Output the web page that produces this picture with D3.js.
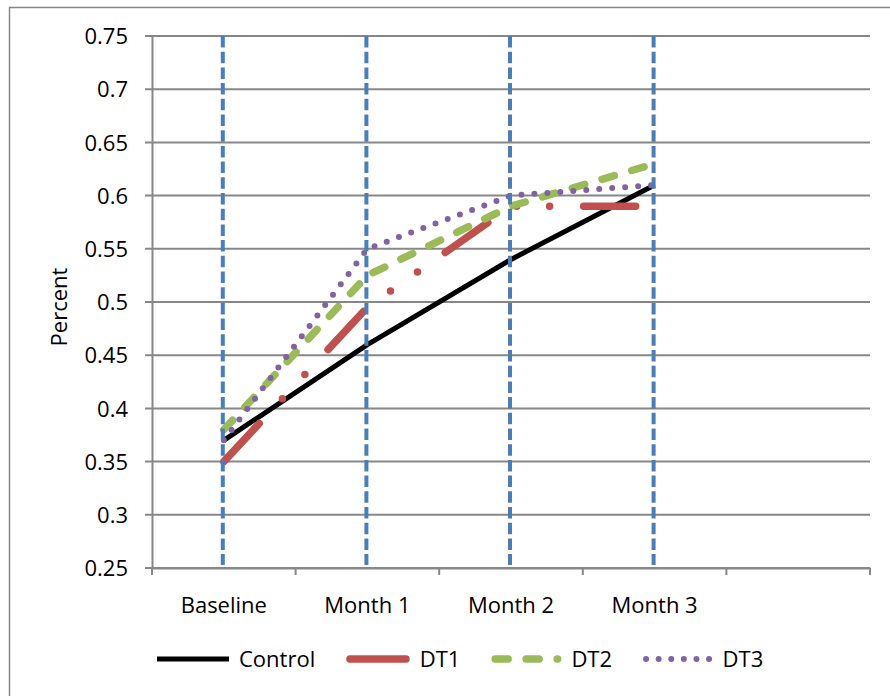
<!DOCTYPE html>
<html>
<head>
<meta charset="utf-8">
<script src="https://cdn.jsdelivr.net/npm/d3@7"></script>
<style>
  html, body { margin: 0; padding: 0; background: #fff; }
  svg { display: block; }
  text { font-family: "Open Sans", "Liberation Sans", sans-serif; fill: #000; }
</style>
</head>
<body>
<svg id="chart" width="890" height="696"></svg>
<script>
// ---- data ----
const categories = ["Baseline", "Month 1", "Month 2", "Month 3", ""];
const seriesNames = ["Control", "DT1", "DT2", "DT3"];
const control = [0.37, 0.46, 0.54, 0.61];
const dt1 = [0.35, 0.495, 0.59, 0.59];
const dt2 = [0.38, 0.525, 0.59, 0.63];
const dt3 = [0.37, 0.55, 0.60, 0.61];
const yTicks = [0.25, 0.3, 0.35, 0.4, 0.45, 0.5, 0.55, 0.6, 0.65, 0.7, 0.75];
const markerCategories = ["Baseline", "Month 1", "Month 2", "Month 3"];

// ---- styles ----
const styles = {
  "Control": { color: "#000000", width: 5, dash: null, legendDash: null, legendLen: 72 },
  "DT1": { color: "#c0504d", width: 7.5, dash: "52 34 0 33 0 34", legendDash: null, legendLen: 56 },
  "DT2": { color: "#9bbb59", width: 7.5, dash: "13 18", legendDash: "13 18", legendLen: 62.5 },
  "DT3": { color: "#8064a2", width: 6, dash: "0 13", legendDash: "0 12.6", legendLen: 63.5 }
};
const seriesValues = { "Control": control, "DT1": dt1, "DT2": dt2, "DT3": dt3 };

const svg = d3.select("#chart");
const plotL = 152, plotR = 870, plotT = 36, plotB = 568;
const gridColor = "#878787";

// outer border
svg.append("rect").attr("x", 9.5).attr("y", 7.5).attr("width", 890).attr("height", 700)
  .attr("fill", "none").attr("stroke", gridColor).attr("stroke-width", 1.5);

const x = d3.scaleBand().domain(categories).range([plotL, plotR]).paddingInner(0).paddingOuter(0);
const y = d3.scaleLinear().domain([0.25, 0.75]).range([plotB, plotT]);
const cx = c => x(c) + x.bandwidth() / 2;

// horizontal gridlines
svg.append("g").selectAll("line").data(yTicks).join("line")
  .attr("x1", plotL - 7).attr("x2", plotR)
  .attr("y1", d => y(d)).attr("y2", d => y(d))
  .attr("stroke", gridColor).attr("stroke-width", 2);

// y axis
const yAxis = d3.axisLeft(y).tickValues(yTicks).tickSize(0).tickPadding(24)
  .tickFormat(d => String(d));
const gy = svg.append("g").attr("transform", `translate(${plotL},0)`).call(yAxis);
gy.select(".domain").attr("stroke", gridColor).attr("stroke-width", 2);
gy.selectAll("text").style("font-size", "22px").attr("dy", "0.35em");

// x axis
const xAxis = d3.axisBottom(x).tickSize(0).tickPadding(0);
const gx = svg.append("g").attr("transform", `translate(0,${plotB})`).call(xAxis);
gx.select(".domain").attr("stroke", gridColor).attr("stroke-width", 2);
gx.selectAll("text").style("font-size", "22px").attr("dy", null).attr("y", 45);
svg.selectAll(".tick text").attr("font-family", null);
// category boundary ticks
const boundaries = categories.map(c => x(c)).concat([plotR]);
svg.append("g").selectAll("line").data(boundaries).join("line")
  .attr("x1", d => d).attr("x2", d => d)
  .attr("y1", plotB).attr("y2", plotB + 7)
  .attr("stroke", gridColor).attr("stroke-width", 2);

// y title
svg.append("text").attr("transform", `translate(67,${(plotT + plotB) / 2 + 5}) rotate(-90)`)
  .attr("text-anchor", "middle").style("font-size", "22px").text("Percent");

// series lines
const line = d3.line().x((d, i) => cx(categories[i])).y(d => y(d));
seriesNames.forEach(name => {
  const s = styles[name];
  svg.append("path").datum(seriesValues[name])
    .attr("d", line)
    .attr("fill", "none")
    .attr("stroke", s.color)
    .attr("stroke-width", s.width)
    .attr("stroke-linecap", s.dash ? "round" : "butt")
    .attr("stroke-linejoin", "round")
    .attr("stroke-dasharray", s.dash);
});

// blue dashed reference lines
svg.append("g").selectAll("line").data(markerCategories).join("line")
  .attr("x1", d => cx(d) - 1).attr("x2", d => cx(d) - 1)
  .attr("y1", plotT).attr("y2", plotB - 3)
  .attr("stroke", "#4a7ebb").attr("stroke-width", 4)
  .attr("stroke-dasharray", "11.5 4.2");

// legend
const legendY = 659;
const lg = svg.append("g");
let cursor = 157;
seriesNames.forEach(name => {
  const s = styles[name];
  const g = lg.append("g");
  const round = name !== "Control";
  const capPad = round ? s.width / 2 : 0;
  g.append("line")
    .attr("x1", cursor + capPad).attr("x2", cursor + capPad + s.legendLen)
    .attr("y1", legendY).attr("y2", legendY)
    .attr("stroke", s.color).attr("stroke-width", s.width)
    .attr("stroke-linecap", round ? "round" : "butt")
    .attr("stroke-dasharray", s.legendDash);
  const tx = cursor + s.legendLen + 2 * capPad + 10;
  const t = g.append("text").attr("x", tx).attr("y", legendY + 8)
    .style("font-size", "22px").text(name);
  cursor = tx + t.node().getComputedTextLength() + 31;
});
</script>
</body>
</html>
